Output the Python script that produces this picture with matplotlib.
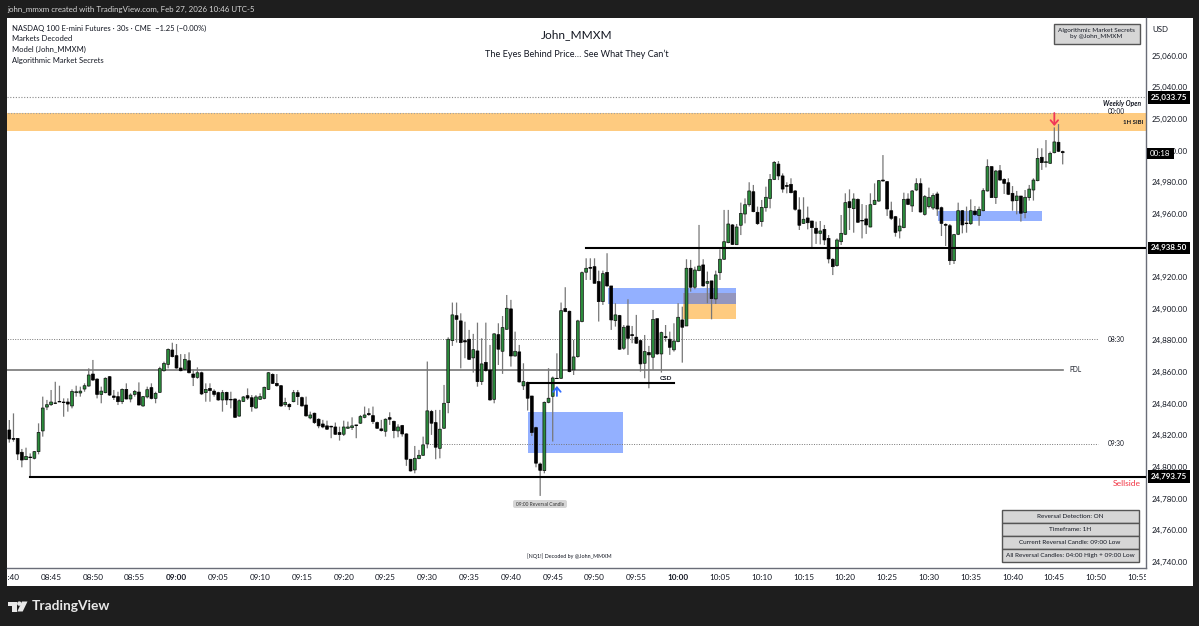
import numpy as np
import matplotlib
matplotlib.use("Agg")
import matplotlib.pyplot as plt
from matplotlib.patches import Rectangle, Polygon, Circle, FancyBboxPatch
from matplotlib.transforms import Bbox

plt.rcParams['font.family'] = ['Lato', 'DejaVu Sans']

# NQ1! 30s bars, prices stored relative to 24,000. Bar 0 is 08:40:00
price_base = 24000
opens = [
    823.3, 818.0, 818.0, 809.2, 804.5, 806.2, 805.4, 809.6, 822.7, 837.8,
    839.3, 840.2, 841.4, 841.0, 841.0, 838.5, 846.9, 846.7, 849.2, 851.1,
    858.7, 855.5, 845.8, 846.9, 857.0, 844.8, 844.4, 841.2, 849.0, 842.9,
    845.8, 847.3, 838.5, 844.2, 850.1, 843.3, 847.1, 860.8, 864.8, 873.9,
    870.3, 862.5, 861.6, 867.1, 858.7, 856.6, 859.5, 846.9, 849.6, 847.9,
    846.9, 842.3, 847.1, 842.7, 842.9, 832.1, 841.4, 845.0, 843.7, 837.2,
    842.7, 843.3, 849.0, 858.5, 852.8, 851.3, 839.3, 839.5, 841.2, 846.9,
    843.8, 839.1, 830.9, 833.9, 830.1, 827.1, 825.9, 825.7, 825.2, 821.7,
    820.6, 824.4, 824.8, 826.5, 827.6, 831.3, 833.7, 832.4, 828.0, 824.0,
    822.5, 831.1, 828.8, 822.7, 826.1, 820.8, 804.8, 798.0, 805.2, 807.3,
    814.5, 835.0, 828.0, 811.7, 824.4, 840.6, 879.8, 895.6, 892.3, 879.8,
    880.7, 868.9, 873.3, 853.9, 866.1, 861.3, 842.7, 883.6, 873.1, 887.0,
    899.9, 870.1, 872.7, 851.2, 853.3, 844.8, 824.8, 801.8, 797.6, 840.8,
    844.6, 856.0, 856.0, 900.1, 898.4, 861.3, 869.7, 891.9, 923.1, 926.2,
    926.6, 917.2, 904.5, 923.0, 914.4, 892.5, 895.7, 875.0, 889.1, 883.6,
    882.0, 879.8, 865.5, 872.3, 869.3, 893.7, 871.4, 882.4, 880.7, 874.0,
    879.2, 892.9, 889.1, 925.6, 913.6, 924.1, 927.7, 916.1, 917.6, 906.2,
    922.8, 931.3, 941.8, 953.0, 940.5, 952.8, 959.9, 965.8, 974.0, 961.0,
    955.1, 963.9, 969.8, 981.8, 991.5, 984.0, 978.0, 978.7, 974.5, 962.5,
    954.0, 957.4, 955.5, 950.9, 947.7, 950.2, 944.5, 931.3, 927.3, 942.4,
    947.1, 967.7, 963.3, 969.2, 955.9, 956.8, 951.7, 966.0, 968.1, 981.4,
    980.4, 962.0, 958.2, 949.2, 951.3, 969.4, 965.0, 975.1, 979.1, 959.7,
    964.6, 963.7, 972.6, 963.9, 953.4, 952.5, 930.4, 947.1, 962.0, 954.2,
    953.8, 961.8, 958.9, 962.0, 974.5, 989.9, 970.3, 987.3, 981.8, 979.7,
    973.0, 968.4, 971.3, 960.8, 970.3, 975.1, 981.0, 995.8, 992.4, 992.0,
    998.7, 1005.3, 999.4]
closes = [
    817.6, 817.4, 808.1, 804.3, 806.6, 805.8, 809.6, 821.8, 837.2, 839.3,
    841.0, 840.4, 841.0, 840.6, 839.7, 847.7, 847.5, 847.9, 851.3, 858.1,
    854.9, 845.8, 847.9, 856.0, 845.4, 843.9, 841.2, 849.0, 842.9, 845.4,
    847.7, 839.1, 844.4, 848.8, 843.3, 846.5, 862.1, 865.4, 874.3, 869.7,
    862.5, 860.8, 868.0, 859.5, 856.6, 859.5, 846.1, 849.0, 848.2, 845.8,
    842.3, 846.9, 842.3, 842.3, 831.3, 841.8, 844.2, 843.5, 838.0, 844.2,
    844.4, 850.3, 859.5, 852.8, 851.3, 838.5, 840.8, 838.0, 846.9, 844.4,
    838.5, 832.2, 832.8, 828.0, 825.9, 825.2, 823.8, 825.2, 820.6, 820.4,
    825.2, 825.2, 825.9, 826.1, 831.8, 832.8, 833.0, 828.6, 824.4, 822.9,
    830.1, 830.1, 822.9, 825.2, 820.8, 804.8, 797.4, 805.4, 807.3, 813.9,
    835.4, 827.6, 812.4, 823.8, 840.2, 880.7, 896.1, 893.3, 878.6, 879.0,
    868.0, 874.1, 853.9, 865.1, 860.9, 842.3, 884.1, 874.4, 888.1, 900.3,
    870.1, 873.1, 853.7, 853.9, 843.4, 821.7, 802.3, 797.8, 840.8, 843.4,
    856.2, 855.8, 898.8, 898.2, 860.2, 869.5, 892.3, 922.8, 925.6, 925.6,
    916.1, 904.5, 922.2, 914.4, 892.9, 896.1, 874.4, 888.3, 881.3, 883.0,
    878.2, 865.1, 872.9, 870.8, 893.3, 871.4, 884.9, 881.7, 875.6, 879.6,
    894.6, 888.3, 925.6, 913.6, 924.5, 927.0, 914.4, 917.2, 906.4, 921.4,
    931.3, 942.4, 953.6, 940.7, 951.7, 960.3, 965.8, 974.5, 961.4, 953.8,
    964.1, 970.5, 981.8, 992.6, 984.0, 975.7, 977.4, 973.4, 962.9, 952.8,
    956.6, 954.4, 951.3, 947.7, 949.2, 943.5, 931.5, 926.6, 943.5, 947.7,
    967.1, 963.9, 969.4, 954.7, 955.5, 953.0, 965.8, 968.6, 981.0, 980.8,
    963.1, 957.2, 948.3, 952.3, 969.2, 966.0, 974.5, 979.1, 961.2, 970.9,
    970.5, 971.7, 963.1, 954.0, 952.8, 930.4, 946.9, 962.0, 953.0, 953.8,
    962.0, 959.5, 962.9, 974.7, 989.9, 970.3, 987.1, 981.4, 979.3, 972.4,
    968.2, 971.3, 960.4, 970.5, 975.7, 981.4, 995.1, 992.4, 993.0, 998.3,
    1005.5, 999.6, 998.7]
highs = [
    829.6, 833.8, 818.0, 811.3, 812.1, 808.5, 810.0, 827.5, 844.4, 842.3,
    848.6, 853.8, 851.3, 843.3, 843.3, 849.0, 851.3, 850.7, 852.8, 862.3,
    867.6, 856.0, 850.7, 856.6, 857.4, 848.6, 847.5, 849.6, 852.8, 846.5,
    848.6, 853.4, 844.8, 850.7, 852.8, 847.5, 863.3, 866.5, 874.9, 878.5,
    877.7, 871.3, 871.3, 872.4, 861.6, 862.9, 860.2, 852.8, 852.8, 849.0,
    847.5, 848.6, 847.5, 847.5, 843.3, 842.7, 844.8, 849.6, 845.4, 845.4,
    846.5, 850.7, 860.0, 859.1, 858.7, 851.7, 843.7, 840.2, 848.6, 848.6,
    844.4, 844.4, 834.9, 834.3, 830.7, 829.7, 829.2, 825.9, 828.0, 825.4,
    829.2, 828.6, 831.3, 826.5, 832.8, 838.1, 837.0, 838.1, 828.6, 829.7,
    830.7, 834.5, 829.2, 826.9, 826.5, 821.2, 804.8, 813.2, 810.7, 819.1,
    866.6, 836.0, 836.0, 836.0, 851.8, 881.9, 903.9, 903.9, 897.1, 891.8,
    886.6, 884.1, 891.2, 881.3, 891.2, 877.1, 884.5, 890.8, 895.4, 908.7,
    905.6, 885.5, 877.1, 865.5, 853.9, 844.8, 825.4, 802.7, 841.3, 862.4,
    857.1, 871.8, 903.9, 913.6, 898.8, 880.3, 893.0, 923.5, 931.9, 931.9,
    931.9, 924.1, 924.1, 935.1, 914.4, 903.5, 896.1, 889.7, 906.0, 889.1,
    896.1, 880.3, 883.4, 876.5, 899.2, 893.7, 885.5, 889.7, 885.5, 890.8,
    903.5, 901.3, 931.3, 930.9, 926.6, 953.0, 931.3, 923.5, 917.6, 924.1,
    937.6, 962.5, 962.5, 953.6, 953.6, 967.1, 969.8, 980.0, 978.3, 964.6,
    968.8, 977.2, 985.2, 993.4, 993.4, 985.6, 980.0, 982.5, 975.1, 970.5,
    970.5, 964.6, 955.5, 955.1, 955.5, 953.0, 946.6, 931.9, 944.5, 959.3,
    973.0, 975.5, 973.0, 969.8, 966.2, 965.6, 973.0, 979.3, 981.4, 997.2,
    980.8, 967.7, 958.7, 957.2, 973.4, 973.0, 975.1, 982.5, 982.5, 971.9,
    976.6, 973.0, 974.0, 964.6, 954.0, 953.6, 947.3, 967.1, 962.4, 964.6,
    969.2, 965.0, 964.6, 976.2, 994.5, 989.9, 987.8, 990.9, 982.5, 982.5,
    977.6, 974.5, 971.3, 975.1, 978.3, 982.5, 1001.5, 1001.5, 1006.7, 999.4,
    1014.7, 1016.8, 1000.0]
lows = [
    815.3, 815.9, 804.3, 799.7, 804.3, 793.75, 804.7, 807.9, 819.1, 835.9,
    838.5, 839.7, 841.0, 831.7, 834.9, 837.0, 844.4, 844.4, 847.5, 850.7,
    854.3, 843.3, 840.2, 846.5, 844.8, 842.3, 839.1, 839.7, 842.7, 840.8,
    844.4, 838.9, 838.0, 843.3, 842.7, 840.2, 846.9, 860.2, 862.3, 869.2,
    862.1, 860.4, 860.8, 859.1, 851.1, 855.7, 845.4, 841.2, 841.2, 844.4,
    841.8, 834.9, 839.1, 837.0, 831.1, 831.7, 841.0, 842.3, 834.9, 836.8,
    842.3, 842.7, 848.6, 852.4, 850.7, 838.0, 838.0, 835.9, 840.8, 839.1,
    838.1, 831.8, 830.1, 827.1, 824.4, 824.4, 823.3, 818.1, 820.2, 816.6,
    819.5, 824.0, 823.3, 818.1, 827.1, 830.7, 832.2, 827.1, 824.0, 822.3,
    819.1, 826.5, 818.1, 818.7, 819.1, 800.6, 797.0, 795.9, 804.8, 806.9,
    811.7, 820.2, 804.8, 805.4, 824.0, 833.9, 876.5, 878.6, 862.3, 868.7,
    867.6, 859.6, 850.7, 851.8, 860.2, 841.9, 840.2, 864.4, 858.8, 886.6,
    863.4, 869.7, 853.3, 848.6, 835.6, 819.5, 799.7, 781.6, 795.9, 840.2,
    816.0, 855.8, 855.6, 897.8, 859.8, 858.1, 869.0, 891.4, 918.2, 918.2,
    916.1, 891.9, 902.4, 914.0, 886.6, 888.7, 874.0, 874.0, 870.8, 878.2,
    877.7, 860.2, 856.0, 849.7, 861.3, 870.8, 859.6, 879.2, 870.8, 872.9,
    878.8, 865.9, 889.1, 910.8, 912.3, 923.7, 914.0, 903.5, 893.3, 903.0,
    918.2, 930.9, 941.4, 940.3, 940.3, 946.6, 954.0, 964.6, 961.0, 953.0,
    951.9, 961.4, 963.5, 981.4, 981.4, 973.4, 973.0, 973.0, 962.0, 949.8,
    953.6, 950.2, 938.6, 941.0, 940.7, 940.3, 928.7, 921.3, 926.6, 940.3,
    946.6, 949.8, 948.1, 954.4, 944.5, 947.3, 951.5, 965.6, 967.7, 980.4,
    958.7, 956.1, 945.6, 944.5, 950.9, 965.6, 961.2, 974.4, 960.8, 958.9,
    963.5, 962.5, 958.7, 946.0, 939.7, 927.7, 928.3, 946.6, 947.7, 948.1,
    953.0, 958.7, 952.5, 961.6, 974.1, 970.3, 966.3, 981.0, 972.6, 971.9,
    962.0, 959.7, 955.1, 957.2, 968.4, 968.4, 980.6, 987.8, 989.4, 991.6,
    998.3, 999.1, 991.3]

# key levels
weekly_open = 25033.75
bsl_level = 24938.50
ssl_level = 24793.75
pdl_level = 24861.2
open_0830 = 24880.7
open_0930 = 24814.4
csd_level = 24853.2
sibi_1h = (25012.4, 25024.0)
# (first bar, last bar, low, high)
fvg_blue = [(124.1, 146.9, 24808.9, 24834.9),
            (143.3, 173.9, 24903.2, 24913.3),
            (222.1, 247.0, 24955.7, 24961.8)]
fvg_orange = [(161.2, 173.9, 24893.7, 24909.8)]

price_ticks = list(range(24740, 25061, 20))
# 24,940 sits completely under the last-level tag
price_labels = ["" if p == 24940 else f"{p:,.2f}" for p in price_ticks]
time_labels = ["08:40", "08:45", "08:50", "08:55", "09:00", "09:05", "09:10", "09:15",
               "09:20", "09:25", "09:30", "09:35", "09:40", "09:45", "09:50", "09:55",
               "10:00", "10:05", "10:10", "10:15", "10:20", "10:25", "10:30", "10:35",
               "10:40", "10:45", "10:50", "10:55"]
time_bars = list(range(0, 271, 10))
status_rows = ["Reversal Detection: ON", "Timeframe: 1H", "Current Reversal Candle: 09:00 Low",
               "All Reversal Candles: 04:00 High + 09:00 Low"]
legend_rows = ["NASDAQ 100 E-mini Futures · 30s · CME  −1.25 (−0.00%)", "Markets Decoded",
               "Model (John_MMXM)", "Algorithmic Market Secrets"]

dark = "#1e1e1e"
ink = "#131722"
green = "#2b8c3c"
orange = "#fecb80"

W, H = 1199, 626
fig = plt.figure(figsize=(W / 100, H / 100), dpi=100, facecolor=dark)

# page furniture in image pixels
bg = fig.add_axes([0, 0, 1, 1], zorder=0)
bg.set_xlim(0, W)
bg.set_ylim(H, 0)
bg.axis("off")
bg.add_patch(Rectangle((7, 18), 1186, 568, fc="white", ec="none"))

L, R, T, B = 7, 1146, 18, 568
ax = fig.add_axes([L / W, 1 - B / H, (R - L) / W, (B - T) / H], zorder=1)
ax.set_xlim(-0.55, 271.93)
ax.set_ylim(24736.0, 25083.9)
for side in ["top", "left"]:
    ax.spines[side].set_visible(False)
for side in ["right", "bottom"]:
    ax.spines[side].set_color("#6a6d78")
    ax.spines[side].set_linewidth(1.0)

bars = np.arange(len(opens))
o = np.array(opens) + price_base
c = np.array(closes) + price_base
h = np.array(highs) + price_base
l = np.array(lows) + price_base

# zones first, blue sits on top of the orange
ax.axhspan(*sibi_1h, color=orange, lw=0, zorder=1)
for x0, x1, y0, y1 in fvg_orange:
    ax.add_patch(Rectangle((x0, y0), x1 - x0, y1 - y0, fc=orange, ec="none", zorder=1))
for x0, x1, y0, y1 in fvg_blue:
    ax.add_patch(Rectangle((x0, y0), x1 - x0, y1 - y0, fc="#2962ff", alpha=0.5, ec="none", zorder=1.1))

# levels
ax.axhline(weekly_open, color="#8a8a8a", lw=0.8, ls=(0, (1, 1.5)), zorder=1.5)
ax.plot([-1, 260.5], [sibi_1h[1]] * 2, color="#a0a0a0", lw=0.8, ls=(0, (1, 1.5)), zorder=1.5)
ax.plot([-1, 260.5], [open_0830] * 2, color="#777777", lw=0.7, ls=(0, (1, 1.5)), zorder=1.5)
ax.plot([100, 260.5], [open_0930] * 2, color="#777777", lw=0.7, ls=(0, (1, 1.5)), zorder=1.5)
ax.plot([-1, 252], [pdl_level] * 2, color="#777777", lw=1.2, zorder=1.6)
ax.plot([5, 272], [ssl_level] * 2, color="black", lw=1.5, zorder=4)
ax.plot([138, 272], [bsl_level] * 2, color="black", lw=1.5, zorder=4)
ax.plot([124, 159], [csd_level] * 2, color="black", lw=1.5, zorder=4)

# candles
up = c >= o
wicks = ax.vlines(bars, l, h, color="#777777", lw=0.9, zorder=2)
wicks.set_snap(False)
body_low = np.minimum(o, c)
body_h = np.abs(c - o)
up_bars = ax.bar(bars[up], body_h[up], bottom=body_low[up], width=0.68, color=green,
                 edgecolor="#111111", lw=0.5, zorder=3)
down_bars = ax.bar(bars[~up], body_h[~up], bottom=body_low[~up], width=0.68, color="black",
                   edgecolor="black", lw=0.5, zorder=3)
for r in list(up_bars) + list(down_bars):
    r.set_snap(False)

# reversal markers
ax.annotate("", xy=(131, 24851.1), xytext=(131, 24844.8),
            arrowprops=dict(arrowstyle="->,head_width=0.3,head_length=0.35", color="#2f6bff", lw=1.3,
                            shrinkA=0, shrinkB=0, mutation_scale=9), zorder=5)
ax.annotate("", xy=(250, 25015.6), xytext=(250, 25023.8),
            arrowprops=dict(arrowstyle="->,head_width=0.3,head_length=0.35", color="#f23657", lw=1.3,
                            shrinkA=0, shrinkB=0, mutation_scale=9), zorder=5)

# axes
ax.yaxis.tick_right()
ax.set_yticks(price_ticks)
ax.set_yticklabels(price_labels, fontsize=5.8, color=ink)
ax.tick_params(axis="y", length=0, pad=4)
ax.set_xticks(time_bars)
ax.set_xticklabels(time_labels, fontsize=5.9, color=ink, va="center")
ax.tick_params(axis="x", length=0, pad=6.5)
clip = Bbox.from_extents(L, H - 586, R, H - B)
for lab, txt in zip(ax.get_xticklabels(), time_labels):
    lab.set_clip_box(clip)
    lab.set_clip_on(True)
    if txt in ("09:00", "10:00"):
        lab.set_fontweight("bold")

# price tags
ytr = ax.get_yaxis_transform()
for p in [weekly_open, bsl_level, ssl_level]:
    ax.text(1.0044, p, f"{p:,.2f}", transform=ytr, color="white", fontsize=5.8, fontweight="bold",
            va="center", ha="left", zorder=10, clip_on=False,
            bbox=dict(fc="black", ec="none", boxstyle="square,pad=0.34"))

# everything else on top, in pixels
top = fig.add_axes([0, 0, 1, 1], zorder=2)
top.set_xlim(0, W)
top.set_ylim(H, 0)
top.axis("off")
top.patch.set_alpha(0)

top.text(7, 9, "john_mmxm created with TradingView.com, Feb 27, 2026 10:46 UTC-5", color="#d6d6d6",
         fontsize=5.7, va="center")
for y, row in zip([28, 38.5, 49, 60], legend_rows):
    top.text(12, y, row, color=ink, fontsize=5.5, va="center")
top.text(577, 35, "John_MMXM", color=ink, fontsize=8.6, ha="center", va="center")
top.text(577, 54, "The Eyes Behind Price… See What They Can’t", color=ink, fontsize=6.6, ha="center", va="center")
top.text(1160, 29, "USD", color=ink, fontsize=5.7, ha="center", va="center")

top.add_patch(Rectangle((1147, 148), 27, 10.5, fc="black", ec="none"))
top.text(1160.5, 153.2, "00:18", color="white", fontsize=5.7, ha="center", va="center")

top.add_patch(Rectangle((1053.5, 23.5), 86, 20, fc="#d6d6d6", ec="#555555", lw=1))
top.text(1096.5, 33.5, "Algorithmic Market Secrets\nby @John_MMXM", color=ink, fontsize=4.6, ha="center",
         va="center", linespacing=1.05)

top.text(1122, 103.5, "Weekly Open", color=ink, fontsize=4.8, style="italic", fontweight="bold", ha="center", va="center")
top.text(1116, 112, "00:00", color=ink, fontsize=4.7, ha="center", va="center")
top.text(1133, 122, "1H SIBI", color=ink, fontsize=4.3, fontweight="bold", ha="center", va="center")
top.text(1116, 340, "08:30", color=ink, fontsize=4.7, ha="center", va="center")
top.text(1116, 443.5, "09:30", color=ink, fontsize=4.7, ha="center", va="center")
top.text(1076, 370, "PDL", color=ink, fontsize=4.7, ha="center", va="center")
top.text(666, 378, "CSD", color=ink, fontsize=4.6, fontweight="bold", ha="center", va="center")
top.text(1127, 484, "Sellside", color="#f23645", fontsize=6.1, ha="center", va="center")
top.text(569.5, 556, "[NQ1!] Decoded by @John_MMXM", color=ink, fontsize=3.9, ha="center", va="center")

top.add_patch(FancyBboxPatch((513, 500), 54, 8, boxstyle="round,pad=0,rounding_size=2",
                             fc="#d6d6d6", ec="none"))
top.text(540, 504.2, "09:00 Reversal Candle", color="#333333", fontsize=3.5, ha="center", va="center")

for i, row in enumerate(status_rows):
    top.add_patch(Rectangle((1001.5, 510 + i * 13), 137.5, 13, fc="#d6d6d6", ec="#555555", lw=1))
    top.text(1070, 516.7 + i * 13, row, color=ink, fontsize=4.55, ha="center", va="center")

# TradingView mark and wordmark
top.add_patch(Polygon([(8, 601.5), (16.5, 601.5), (16.5, 611.5), (12, 611.5), (12, 606), (8, 606)], fc="#e8e8e8", ec="none"))
top.add_patch(Circle((19.3, 603.6), 2.2, fc="#e8e8e8", ec="none"))
top.add_patch(Polygon([(22, 601.5), (27.5, 601.5), (22.7, 611.5), (17.3, 611.5)], fc="#e8e8e8", ec="none"))
top.text(32, 606.5, "TradingView", color="#e8e8e8", fontsize=9.9, fontweight="bold", va="center")

fig.savefig("out.png", dpi=100, facecolor=dark)
